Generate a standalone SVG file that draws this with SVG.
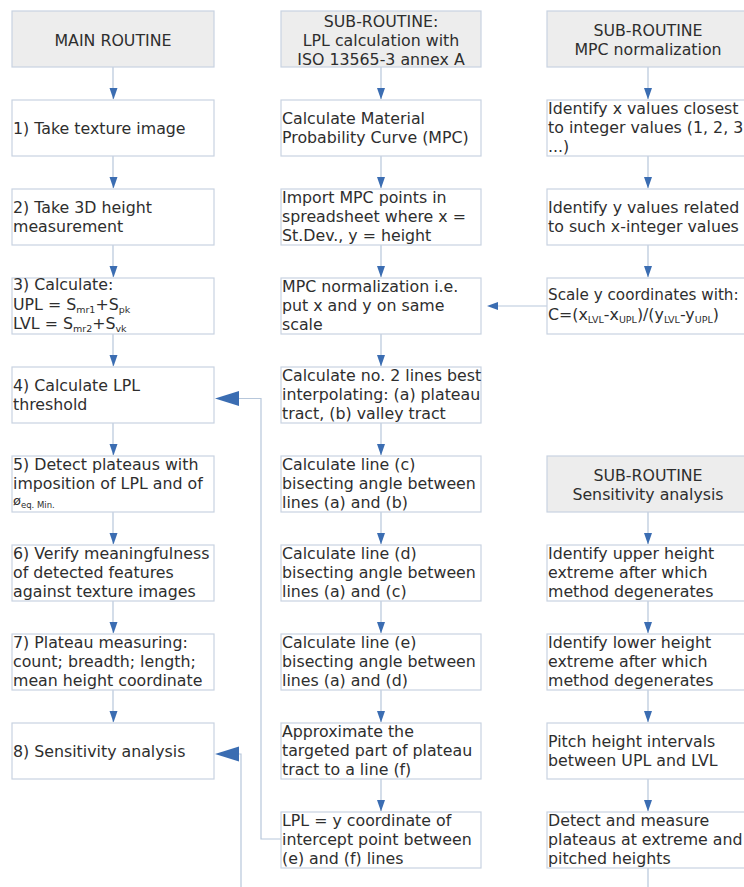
<svg xmlns="http://www.w3.org/2000/svg" width="744" height="887" viewBox="0 0 744 887">
<style>
  .box{fill:#ffffff;stroke:#c9d3e1;stroke-width:1.2}
  .hdr{fill:#ededed;stroke:#c9d3e1;stroke-width:1.2}
  text{font-family:"DejaVu Sans","Verdana",sans-serif;font-size:15.8px;fill:#2e2e2e}
  .c{text-anchor:middle}
  .ln{fill:none;stroke:#b7c7db;stroke-width:1.2}
  .ah{fill:#3b6db2}
  .sub{font-size:9.5px}
</style>
<rect width="744" height="887" fill="#ffffff"/>

<g id="connectors">
  <path class="ln" d="M113,67V99 M113,156V188 M113,245V277 M113,334V366 M113,423V455 M113,512V544 M113,601V633 M113,690V722"/>
  <path class="ln" d="M381,67V99 M381,156V188 M381,245V277 M381,334V366 M381,423V455 M381,512V544 M381,601V633 M381,690V722 M381,779V811"/>
  <path class="ln" d="M648,67V99 M648,156V188 M648,245V277 M648,512V544 M648,601V633 M648,690V722 M648,779V811 M648,868V887"/>
  <g class="ah">
    <polygon points="109.5,88 117.5,88 113.5,99.5"/>
    <polygon points="109.5,177 117.5,177 113.5,188.5"/>
    <polygon points="109.5,266 117.5,266 113.5,277.5"/>
    <polygon points="109.5,355 117.5,355 113.5,366.5"/>
    <polygon points="109.5,444 117.5,444 113.5,455.5"/>
    <polygon points="109.5,533 117.5,533 113.5,544.5"/>
    <polygon points="109.5,622 117.5,622 113.5,633.5"/>
    <polygon points="109.5,711 117.5,711 113.5,722.5"/>

    <polygon points="377,88 385,88 381,99.5"/>
    <polygon points="377,177 385,177 381,188.5"/>
    <polygon points="377,266 385,266 381,277.5"/>
    <polygon points="377,355 385,355 381,366.5"/>
    <polygon points="377,444 385,444 381,455.5"/>
    <polygon points="377,533 385,533 381,544.5"/>
    <polygon points="377,622 385,622 381,633.5"/>
    <polygon points="377,711 385,711 381,722.5"/>
    <polygon points="377,800 385,800 381,811.5"/>

    <polygon points="644,88 652,88 648,99.5"/>
    <polygon points="644,177 652,177 648,188.5"/>
    <polygon points="644,266 652,266 648,277.5"/>
    <polygon points="644,533 652,533 648,544.5"/>
    <polygon points="644,622 652,622 648,633.5"/>
    <polygon points="644,711 652,711 648,722.5"/>
    <polygon points="644,800 652,800 648,811.5"/>
  </g>
  <path class="ln" d="M547,306H498"/>
  <polygon class="ah" points="487,306 498,302 498,310"/>
  <path class="ln" d="M281,839H261V398.5H239"/>
  <polygon class="ah" points="215,398.5 239,391 239,406"/>
  <path class="ln" d="M241,887V754H238"/>
  <polygon class="ah" points="215,754 239,746.5 239,761.5"/>
</g>

<!-- LEFT COLUMN -->
<g id="main-header"><rect class="hdr" x="12" y="11" width="202" height="56"/><text class="c" x="113" y="45.5">MAIN ROUTINE</text></g>
<g id="step1"><rect class="box" x="12" y="100" width="202" height="56"/><text x="13" y="133.5">1) Take texture image</text></g>
<g id="step2"><rect class="box" x="12" y="189" width="202" height="56"/><text x="13" y="213">2) Take 3D height</text><text x="13" y="232">measurement</text></g>
<g id="step3"><rect class="box" x="12" y="278" width="202" height="56"/>
  <text x="13" y="290">3) Calculate:</text>
  <text x="13" y="310">UPL = S<tspan class="sub" dy="3">mr1</tspan><tspan dy="-3">+S</tspan><tspan class="sub" dy="3">pk</tspan></text>
  <text x="13" y="329">LVL = S<tspan class="sub" dy="3">mr2</tspan><tspan dy="-3">+S</tspan><tspan class="sub" dy="3">vk</tspan></text>
</g>
<g id="step4"><rect class="box" x="12" y="367" width="202" height="56"/><text x="13" y="391">4) Calculate LPL</text><text x="13" y="410">threshold</text></g>
<g id="step5"><rect class="box" x="12" y="456" width="202" height="56"/>
  <text x="13" y="469.5">5) Detect plateaus with</text>
  <text x="13" y="488.5">imposition of LPL and of</text>
  <text x="13" y="505" style="font-size:13px">ø<tspan style="font-size:8.5px" dy="3">eq. Min.</tspan></text>
</g>
<g id="step6"><rect class="box" x="12" y="545" width="202" height="56"/><text x="13" y="558.5">6) Verify meaningfulness</text><text x="13" y="577.5">of detected features</text><text x="13" y="596.5">against texture images</text></g>
<g id="step7"><rect class="box" x="12" y="634" width="202" height="56"/><text x="13" y="647.5">7) Plateau measuring:</text><text x="13" y="666.5">count; breadth; length;</text><text x="13" y="685.5">mean height coordinate</text></g>
<g id="step8"><rect class="box" x="12" y="723" width="202" height="56"/><text x="13" y="756.5">8) Sensitivity analysis</text></g>

<!-- MIDDLE COLUMN -->
<g id="lpl-header"><rect class="hdr" x="281" y="11" width="200" height="56"/><text class="c" x="381" y="26.5">SUB-ROUTINE:</text><text class="c" x="381" y="45.5">LPL calculation with</text><text class="c" x="381" y="64.5">ISO 13565-3 annex A</text></g>
<g id="mpc"><rect class="box" x="281" y="100" width="200" height="56"/><text x="282" y="124">Calculate Material</text><text x="282" y="143">Probability Curve (MPC)</text></g>
<g id="import"><rect class="box" x="281" y="189" width="200" height="56"/><text x="282" y="202.5">Import MPC points in</text><text x="282" y="221.5">spreadsheet where x =</text><text x="282" y="240.5">St.Dev., y = height</text></g>
<g id="mpcnorm"><rect class="box" x="281" y="278" width="200" height="56"/><text x="282" y="291.5">MPC normalization i.e.</text><text x="282" y="310.5">put x and y on same</text><text x="282" y="329.5">scale</text></g>
<g id="twolines"><rect class="box" x="281" y="367" width="200" height="56"/><text x="282" y="380.5">Calculate no. 2 lines best</text><text x="282" y="399.5">interpolating: (a) plateau</text><text x="282" y="418.5">tract, (b) valley tract</text></g>
<g id="linec"><rect class="box" x="281" y="456" width="200" height="56"/><text x="282" y="469.5">Calculate line (c)</text><text x="282" y="488.5">bisecting angle between</text><text x="282" y="507.5">lines (a) and (b)</text></g>
<g id="lined"><rect class="box" x="281" y="545" width="200" height="56"/><text x="282" y="558.5">Calculate line (d)</text><text x="282" y="577.5">bisecting angle between</text><text x="282" y="596.5">lines (a) and (c)</text></g>
<g id="linee"><rect class="box" x="281" y="634" width="200" height="56"/><text x="282" y="647.5">Calculate line (e)</text><text x="282" y="666.5">bisecting angle between</text><text x="282" y="685.5">lines (a) and (d)</text></g>
<g id="linef"><rect class="box" x="281" y="723" width="200" height="56"/><text x="282" y="736.5">Approximate the</text><text x="282" y="755.5">targeted part of plateau</text><text x="282" y="774.5">tract to a line (f)</text></g>
<g id="lpl"><rect class="box" x="281" y="812" width="200" height="56"/><text x="282" y="825.5">LPL = y coordinate of</text><text x="282" y="844.5">intercept point between</text><text x="282" y="863.5">(e) and (f) lines</text></g>

<!-- RIGHT COLUMN -->
<g id="norm-header"><rect class="hdr" x="547" y="11" width="202" height="56"/><text class="c" x="648" y="35.5">SUB-ROUTINE</text><text class="c" x="648" y="55">MPC normalization</text></g>
<g id="identx"><rect class="box" x="547" y="100" width="202" height="56"/><text x="548" y="113.5">Identify x values closest</text><text x="548" y="132.5">to integer values (1, 2, 3</text><text x="548" y="151.5">...)</text></g>
<g id="identy"><rect class="box" x="547" y="189" width="202" height="56"/><text x="548" y="213">Identify y values related</text><text x="548" y="232">to such x-integer values</text></g>
<g id="scale"><rect class="box" x="547" y="278" width="202" height="56"/>
  <text x="548" y="299.5" style="font-size:15.2px">Scale y coordinates with:</text>
  <text x="548" y="319.5">C=(x<tspan class="sub" dy="3">LVL</tspan><tspan dy="-3">-x</tspan><tspan class="sub" dy="3">UPL</tspan><tspan dy="-3">)/(y</tspan><tspan class="sub" dy="3">LVL</tspan><tspan dy="-3">-y</tspan><tspan class="sub" dy="3">UPL</tspan><tspan dy="-3">)</tspan></text>
</g>
<g id="sens-header"><rect class="hdr" x="547" y="456" width="202" height="56"/><text class="c" x="648" y="480.5">SUB-ROUTINE</text><text class="c" x="648" y="500">Sensitivity analysis</text></g>
<g id="upper"><rect class="box" x="547" y="545" width="202" height="56"/><text x="548" y="558.5">Identify upper height</text><text x="548" y="577.5">extreme after which</text><text x="548" y="596.5">method degenerates</text></g>
<g id="lower"><rect class="box" x="547" y="634" width="202" height="56"/><text x="548" y="647.5">Identify lower height</text><text x="548" y="666.5">extreme after which</text><text x="548" y="685.5">method degenerates</text></g>
<g id="pitch"><rect class="box" x="547" y="723" width="202" height="56"/><text x="548" y="747">Pitch height intervals</text><text x="548" y="766">between UPL and LVL</text></g>
<g id="detect"><rect class="box" x="547" y="812" width="202" height="56"/><text x="548" y="825.5">Detect and measure</text><text x="548" y="844.5">plateaus at extreme and</text><text x="548" y="863.5">pitched heights</text></g>
</svg>
